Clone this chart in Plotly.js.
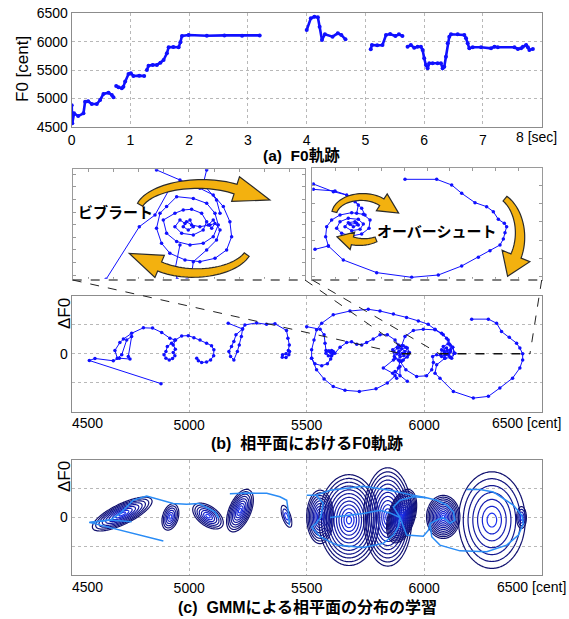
<!DOCTYPE html>
<html><head><meta charset="utf-8">
<script src="https://cdn.plot.ly/plotly-3.0.1.min.js"></script>
<style>html,body{margin:0;padding:0;background:#fff}#chart{width:569px;height:619px}</style>
</head><body><div id="chart"></div>
<script>
// ---------- DATA ----------
// (a) F0 contour: time [sec] and F0 [cent]; null = unvoiced gap
const f0Time = [0,0.005,0.01,0.04,0.11,0.2,0.228,0.28,0.341,0.427,0.484,0.54,0.626,0.683,0.711,null,
  0.757,0.796,0.853,0.88,0.91,0.967,1.007,1.05,1.15,1.234,null,
  1.28,1.308,1.38,1.45,1.51,1.564,1.62,1.65,1.73,1.82,1.85,1.877,1.99,2.3,2.6,2.9,3.2,null,
  4.0,4.07,4.13,4.19,4.22,4.26,4.31,4.44,4.53,4.59,4.66,null,
  5.09,5.11,5.2,5.29,5.35,5.42,5.51,5.57,5.63,null,
  5.717,5.773,5.83,5.887,5.944,5.973,6.0,6.029,6.058,6.086,6.143,6.229,6.285,6.314,6.342,6.37,6.4,6.427,6.456,6.57,6.683,6.712,6.74,6.768,6.826,6.968,7.138,7.195,7.253,7.536,7.594,7.65,7.68,7.735,7.765,7.79,7.85];
const f0Cent = [4880,4700,4560,4736,4688,4736,4941,4950,4900,4900,4971,5077,5100,5059,5018,null,
  5218,5195,5177,5206,5295,5430,5442,5395,5400,5395,null,
  5500,5577,5590,5589,5630,5677,5794,5900,5905,5900,5990,6100,6118,6105,6110,6105,6110,null,
  6205,6411,6440,6430,6264,6029,6130,6088,6147,6118,6041,null,
  5865,5941,5935,5941,6117,6135,6100,6129,6100,null,
  5911,5941,5893,5911,5911,5853,5706,5588,5530,5618,5618,5618,5618,5530,5558,5735,5971,6088,6130,6130,6117,6059,5971,5882,5900,5900,5882,5911,5900,5900,5870,5882,5911,5941,5900,5853,5870];

// (b) phase plane: F0 [cent] vs ΔF0
const phaseCent = [4880,4575,4599,4677,4703,4748,4741,4755,4734,4713,4694,4684,4705,4720,4755,4805,4844,4883,4918,4939,4925,4907,4901,4893,4901,4915,4929,4939,4932,4941,4932,4942,4968,4996,5020,5046,5074,5095,5105,5104,5091,5074,5053,5039,5032,null,
  5166,5227,5222,5213,5205,5190,5176,5169,5180,5190,5199,5227,5237,5287,5329,5365,5414,5420,5426,5422,5412,5397,5396,5412,5424,5427,null,
  5500,5557,5574,5578,5582,5596,5606,5613,5606,5592,5582,5592,5602,5613,5620,5642,5670,5691,5713,5734,5755,5783,5812,5843,5876,5894,5911,5928,5937,5928,5911,5890,5873,5871,5886,5904,5918,5914,5897,5883,5893,5908,5897,5890,5922,5932,5904,5876,5866,5890,null,
  5606,5602,5588,5564,5535,5521,5521,5531,5542,5564,5613,5684,5762,5812,5869,5925,5975,6017,6046,6074,6095,6110,6112,null,
  5521,5542,5574,5613,5663,5724,5795,5843,5876,5890,5897,null,
  5904,5918,5954,5996,6046,6081,6102,6121,6127,6112,6088,6070,6074,6095,6112,6105,6088,6084,6098,6104,6093,6081,6102,6121,6131,6117,null,
  5897,5922,5968,6010,6032,6039,6036,6053,6074,null,
  6088,6053,6046,6067,6124,6209,6273,6322,6376,6407,6419,6419,6407,6393,6362,6329,6308,6273,6202,null,
  5869,5826,5866,5883,null,5876,5928,null,5897,5897];
const phaseDelta = [-1.03,-0.23,-0.16,-0.24,-0.15,-0.18,-0.09,0.60,0.48,-0.03,-0.15,0.12,0.39,0.51,0.71,0.90,0.89,0.74,0.54,0.48,0.37,0.25,0.08,-0.03,-0.15,-0.21,-0.16,-0.07,0.05,0.16,0.31,0.48,0.62,0.63,0.56,0.48,0.37,0.28,0.14,-0.07,-0.21,-0.28,-0.30,-0.24,-0.15,null,
  1.06,0.86,0.60,0.31,0.08,-0.21,-0.09,0.08,0.25,0.43,0.66,0.86,1.00,1.07,1.02,1.04,0.81,0.54,0.31,0.12,0.00,-0.03,-0.12,-0.13,-0.03,0.08,null,
  0.94,0.85,0.66,0.37,0.12,0.10,0.12,0.02,-0.07,-0.07,0.02,0.10,0.05,0.08,0.02,0.23,0.39,0.42,0.33,0.31,0.39,0.51,0.66,0.66,0.48,0.25,0.28,0.20,0.05,-0.11,-0.21,-0.21,-0.09,0.08,0.20,0.18,0.08,-0.07,-0.11,0.00,0.10,0.02,-0.03,0.05,0.23,-0.03,-0.26,-0.15,0.14,0.31,null,
  -0.07,-0.18,-0.34,-0.41,-0.34,-0.15,0.14,0.48,0.83,1.06,1.35,1.48,1.54,1.48,1.38,1.26,1.14,1.02,0.85,0.71,0.54,0.31,0.14,null,
  -0.15,-0.55,-0.87,-1.13,-1.26,-1.30,-1.21,-1.01,-0.76,-0.49,-0.26,null,
  0.28,0.60,0.81,0.85,0.83,0.66,0.48,0.23,0.02,-0.13,-0.15,-0.03,0.14,0.20,0.08,-0.06,-0.05,0.08,0.12,0.02,0.00,0.25,0.35,0.23,0.02,-0.15,null,
  -0.26,-0.55,-0.78,-0.76,-0.55,-0.30,-0.09,-0.03,-0.09,null,
  -0.15,-0.38,-0.67,-0.84,-1.30,-1.53,-1.47,-1.18,-0.84,-0.49,-0.21,0.00,0.20,0.37,0.57,0.77,1.06,1.20,1.20,null,
  -0.21,-0.49,-0.67,-0.84,null,-0.61,-0.95,null,-0.44,-0.76];

// (b) inset: vibrato (zoomed)
const vibCent = [5872.2,5889.4,5897.5,5905.2,5913.8,5920.7,5927.6,5932.8,5936.2,5937.1,5934.5,5928.5,5920.7,5913.0,5905.2,5900.9,5898.3,5900.1,5903.5,5908.7,5917.3,5924.2,5928.5,5930.2,5927.6,5922.4,5915.6,5908.7,5903.5,5901.8,5907.8,5912.1,5916.4,5921.6,5924.2,5922.4,5917.3,5911.3,5907.8,5910.4,5913.0,5915.6,5917.3,5914.7,5912.1,5913.8,5916.4,5920.7,5925.9,5928.5,5926.8,5925.0,5927.6,5931.1,5929.3,5924.2,5917.3,5916.4,5913.8,null,
  5898.3,5910.4,5916.4,5922.4,5924.2,null,5922.4,5929.3,5931.1,null,5910.4,5907.8,5909.0];
const vibDelta = [-0.346,-0.013,0.061,0.230,0.240,0.230,0.188,0.114,0.019,-0.076,-0.160,-0.213,-0.234,-0.223,-0.181,-0.118,-0.023,0.072,0.114,0.177,0.166,0.135,0.072,-0.002,-0.076,-0.118,-0.128,-0.107,-0.055,0.029,0.072,0.093,0.097,0.072,0.019,-0.034,-0.065,-0.055,-0.013,0.029,0.008,0.029,-0.013,-0.034,-0.013,0.019,-0.002,-0.013,-0.002,0.008,-0.023,-0.002,0.029,-0.034,-0.097,-0.160,-0.234,-0.318,-0.350,null,
  0.346,0.282,0.251,0.257,0.346,null,0.257,0.156,0.072,null,-0.128,-0.287,-0.346];

// (b) inset: overshoot (zoomed)
const ovsCent = [6202.1,6271.1,6303.8,6325.6,6354.6,6380.0,6394.6,6405.5,6418.5,6423.6,6420.0,6416.4,6409.1,6387.3,6361.9,6325.6,6274.7,6216.6,6140.3,6067.6,6035.0,6005.9,null,
  6035.0,6029.1,6031.3,6042.2,6060.4,6085.8,6111.2,6125.8,6123.6,6107.6,6085.8,6064.0,6053.1,6060.4,6078.5,6100.3,6111.2,6104.0,6085.8,6071.3,6078.5,6093.1,6100.3,6089.4,6082.2,6096.7,null,
  6002.3,6045.9,6074.9,6093.1,6107.6,6114.9,null,
  6002.3,6049.5,6085.8,6100.3,6096.7];
const ovsDelta = [1.176,1.176,1.020,0.790,0.533,0.422,0.285,0.073,-0.037,-0.129,-0.294,-0.469,-0.634,-0.791,-0.974,-1.213,-1.462,-1.526,-1.397,-1.048,-0.662,-0.754,null,
  -0.662,-0.405,-0.129,0.055,0.193,0.257,0.211,0.055,-0.175,-0.331,-0.386,-0.313,-0.175,0.009,0.101,0.073,-0.055,-0.203,-0.239,-0.129,-0.019,0.009,-0.083,-0.129,-0.065,-0.037,null,
  1.047,0.836,0.744,0.560,0.376,0.193,null,
  0.900,0.854,0.698,0.468,0.239];

// zoomed regions of the main phase plane [cent]
const zoomVib = [5905, 5945];
const zoomOvs = [6065, 6450];

// (c) smoothed trajectory
const smoothCent = [4890,4575,4663,4706,4762,4819,4932,4989,5041,5111,5126,null,
  4575,4663,4755,null,
  5173,5250,5330,5386,5415,5422,5426,null,
  5500,5540,5570,5560,5540,5521,5557,5628,5741,5826,5869,5890,5897,null,
  5540,5599,5741,5854,5954,6010,6053,6096,6124,6131,6110,6081,null,
  5599,5670,5741,5812,5854,5897,null,
  5897,5869,5897,5954,6010,null,
  5897,5925,5996,6018,6025,6053,6081,null,
  6025,6032,6067,6152,6266,6351,6401,6422,6415,6379,6337,6294,6238,6181];
const smoothDelta = [-0.82,-0.17,-0.09,0.14,0.60,0.75,0.49,0.46,0.49,0.19,-0.03,null,
  -0.17,-0.09,-0.15,null,
  0.83,0.85,0.84,0.72,0.60,0.20,-0.27,null,
  0.77,0.77,0.50,0.00,-0.20,-0.33,-0.67,-0.96,-1.04,-0.90,-0.61,-0.33,0.00,null,
  0.77,0.95,1.09,0.95,0.77,0.69,0.60,0.43,0.20,-0.09,-0.20,0.00,null,
  0.00,0.08,0.14,0.25,0.16,0.00,null,
  0.00,0.37,0.60,0.72,0.69,null,
  0.00,-0.61,-0.65,-0.44,-0.21,-0.09,0.00,null,
  -0.21,-0.67,-0.96,-1.16,-1.19,-0.96,-0.61,-0.21,0.08,0.43,0.66,0.89,0.97,0.97];

// (c) GMM components: mean, spread of outer contour, correlation, number of contour rings
const gmmMeanCent  = [4715, 4920, 5080, 5216, 5414, 5557, 5680, 5845, 5904, 6081, 6288, 6414];
const gmmMeanDelta = [0.12, 0.02, 0.05, 0.24, 0.04, 0.02, -0.09, 0.02, 0.05, 0.02, -0.09, 0.00];
const gmmSdCent    = [127, 36, 65, 57, 23, 57, 128, 103, 64, 71, 142, 21];
const gmmSdDelta   = [0.59, 0.46, 0.45, 0.74, 0.38, 0.93, 1.58, 1.71, 0.93, 0.75, 1.68, 0.38];
const gmmRho       = [0.75, 0.3, -0.5, 0.5, -0.6, 0.0, 0.0, 0.0, 0.4, 0.0, 0.0, 0.0];
const gmmRings     = [9, 6, 7, 9, 3, 10, 12, 12, 15, 12, 7, 4];

const secTicks = [0,1,2,3,4,5,6,7,8];
const centTicks = [4500,5000,5500,6000,6500];
const f0Ticks = [4500,5000,5500,6000,6500];

// ---------- LAYOUT HELPERS ----------
const W = 569, H = 619;
const X = p => p / W, Y = p => 1 - p / H;
const FONT = 'Liberation Sans, Arial, Noto Sans CJK JP, sans-serif';
const JFONT = 'Liberation Sans, Noto Sans CJK JP, sans-serif';
const mainX = [X(71.7), X(541.7)];
const domA = [Y(126.7), Y(13.3)], domB = [Y(411.7), Y(296)], domC = [Y(575), Y(460)];
const insL = {x: [X(72.7), X(305)], y: [Y(280), Y(169.3)]};
const insR = {x: [X(312.3), X(541.7)], y: [Y(280), Y(168.3)]};

const gridAx = {showgrid: true, gridcolor: '#b8b8b8', griddash: 'dot', gridwidth: 1,
  showline: true, mirror: true, linecolor: '#8c8c8c', linewidth: 1, zeroline: false, ticks: '',
  tickfont: {family: FONT, size: 14, color: '#000'}, fixedrange: true};
const insetAx = {showgrid: false, showline: true, mirror: 'ticks', linecolor: '#9a9a9a', zeroline: false,
  ticks: 'inside', ticklen: 3, tickcolor: '#9a9a9a', showticklabels: false, fixedrange: true};

const traces = [];
const blue = '#1010ff';
traces.push({type: 'scatter', x: f0Time, y: f0Cent, xaxis: 'x', yaxis: 'y', mode: 'lines+markers',
  line: {color: blue, width: 2.6}, marker: {color: blue, size: 4}, connectgaps: false, hoverinfo: 'skip'});
traces.push({type: 'scatter', x: phaseCent, y: phaseDelta, xaxis: 'x2', yaxis: 'y2', mode: 'lines+markers',
  line: {color: blue, width: 1}, marker: {color: blue, size: 3.5}, connectgaps: false, hoverinfo: 'skip'});
traces.push({type: 'scatter', x: vibCent, y: vibDelta, xaxis: 'x4', yaxis: 'y4', mode: 'lines+markers',
  line: {color: blue, width: 1}, marker: {color: blue, size: 3.5}, connectgaps: false, hoverinfo: 'skip'});
traces.push({type: 'scatter', x: ovsCent, y: ovsDelta, xaxis: 'x5', yaxis: 'y5', mode: 'lines+markers',
  line: {color: blue, width: 1}, marker: {color: blue, size: 3.5}, connectgaps: false, hoverinfo: 'skip'});

// GMM contour traces (Mahalanobis radius of each component)
for (let k = 0; k < gmmMeanCent.length; k++) {
  const mx = gmmMeanCent[k], my = gmmMeanDelta[k], sx = gmmSdCent[k], sy = gmmSdDelta[k], r = gmmRho[k];
  const n = 81, xs = [], ys = [], z = [];
  for (let i = 0; i < n; i++) { xs.push(mx + sx * 1.15 * (2 * i / (n - 1) - 1)); ys.push(my + sy * 1.15 * (2 * i / (n - 1) - 1)); }
  for (let j = 0; j < n; j++) {
    const row = [];
    for (let i = 0; i < n; i++) {
      const u = (xs[i] - mx) / sx, v = (ys[j] - my) / sy;
      row.push(Math.sqrt((u * u - 2 * r * u * v + v * v) / (1 - r * r)));
    }
    z.push(row);
  }
  const nr = gmmRings[k];
  traces.push({type: 'contour', x: xs, y: ys, z: z, xaxis: 'x3', yaxis: 'y3', autocontour: false,
    contours: {start: 1 / nr, end: 1.0001, size: 1 / nr, coloring: 'lines', showlabels: false},
    line: {width: 1.2, smoothing: 1}, colorscale: [[0, '#1a30f0'], [0.3, '#161eb4'], [1, '#10106e']],
    zauto: false, zmin: 0, zmax: 1, showscale: false, hoverinfo: 'skip'});
}
traces.push({type: 'scatter', x: smoothCent, y: smoothDelta, xaxis: 'x3', yaxis: 'y3', mode: 'lines',
  line: {color: '#2a8cf5', width: 1.5}, connectgaps: false, hoverinfo: 'skip'});

// ---------- SHAPES ----------
const shapes = [];
function arcArrow(cx, cy, rx, ry, t0, t1, bw0, bw1, hw, hl) {
  const N = 30, s = Math.sign(t1 - t0), outer = [], inner = [];
  let pEnd, dEnd;
  for (let i = 0; i <= N; i++) {
    const t = (t0 + (t1 - t0) * i / N) * Math.PI / 180;
    const x = cx + rx * Math.cos(t), y = cy + ry * Math.sin(t);
    let dx = -rx * Math.sin(t) * s, dy = ry * Math.cos(t) * s;
    const L = Math.hypot(dx, dy); dx /= L; dy /= L;
    const nx = -dy, ny = dx, w = (bw0 + (bw1 - bw0) * i / N) / 2;
    outer.push([x + nx * w, y + ny * w]); inner.push([x - nx * w, y - ny * w]);
    if (i === N) { pEnd = [x, y]; dEnd = [dx, dy]; }
  }
  const nn = [-dEnd[1], dEnd[0]];
  const b1 = [pEnd[0] + nn[0] * hw, pEnd[1] + nn[1] * hw], b2 = [pEnd[0] - nn[0] * hw, pEnd[1] - nn[1] * hw];
  const tip = [pEnd[0] + dEnd[0] * hl, pEnd[1] + dEnd[1] * hl];
  const pts = outer.concat([b1, tip, b2], inner.reverse());
  return 'M' + pts.map(p => X(p[0]).toFixed(5) + ',' + Y(p[1]).toFixed(5)).join('L') + 'Z';
}
const arrowStyle = {type: 'path', xref: 'paper', yref: 'paper', fillcolor: '#F3B10F', line: {color: '#2b2b2b', width: 1.2}, layer: 'above'};
[
  [200, 212, 62, 28, 195, 305, 6, 10, 13, 36],
  [195, 245, 55, 28, 20, 130, 6, 10, 12, 33],
  [362, 215, 28, 18, 190, 315, 5, 8, 10, 20],
  [362, 222, 28, 20, 60, 110, 5, 8, 9, 16],
  [490, 235, 30, 42, -60, 30, 6, 11, 15, 22]
].forEach(a => shapes.push(Object.assign({}, arrowStyle, {path: arcArrow(...a)})));

// inset bottom borders dashed
[insL, insR].forEach(ins => {
  shapes.push({type: 'line', xref: 'paper', yref: 'paper', x0: ins.x[0], x1: ins.x[1], y0: ins.y[0], y1: ins.y[0], line: {color: '#fff', width: 2.5}, layer: 'above'});
  shapes.push({type: 'line', xref: 'paper', yref: 'paper', x0: ins.x[0], x1: ins.x[1], y0: ins.y[0], y1: ins.y[0], line: {color: '#555', width: 1.5, dash: 'dash'}, layer: 'above'});
});
// connectors from insets to zoomed regions in (b)
const bx = c => mainX[0] + (c - 4500) / 2000 * (mainX[1] - mainX[0]);
const bZero = domB[0] + 0.5 * (domB[1] - domB[0]);
const conn = {type: 'line', xref: 'paper', yref: 'paper', line: {color: '#222', width: 1, dash: 'dash'}, layer: 'above'};
shapes.push(Object.assign({}, conn, {x0: insL.x[0], y0: insL.y[0], x1: bx(zoomVib[0]), y1: bZero}));
shapes.push(Object.assign({}, conn, {x0: insL.x[1], y0: insL.y[0], x1: bx(zoomVib[1]), y1: bZero}));
shapes.push(Object.assign({}, conn, {x0: insR.x[0], y0: insR.y[0], x1: bx(zoomOvs[0]), y1: bZero}));
shapes.push(Object.assign({}, conn, {x0: insR.x[1], y0: insR.y[0], x1: bx(zoomOvs[1]), y1: bZero}));
shapes.push({type: 'line', xref: 'x2', yref: 'y2', x0: zoomOvs[0], x1: zoomOvs[1], y0: 0, y1: 0, line: {color: '#111', width: 1.5, dash: 'dash'}, layer: 'above'});
shapes.push({type: 'line', xref: 'x2', yref: 'y2', x0: zoomVib[0], x1: zoomVib[1], y0: 0, y1: 0, line: {color: '#111', width: 1.5, dash: 'dash'}, layer: 'above'});

// ---------- ANNOTATIONS ----------
const ann = (px, py, text, size, extra) => Object.assign({xref: 'paper', yref: 'paper', x: X(px), y: Y(py), text: text,
  showarrow: false, xanchor: 'center', yanchor: 'middle', font: {family: JFONT, size: size, color: '#000'}}, extra || {});
const annotations = [
  ann(301, 155, '<b>(a)  F0軌跡</b>', 15.5),
  ann(307, 443, '<b>(b)  相平面におけるF0軌跡</b>', 16),
  ann(307, 607, '<b>(c)  GMMによる相平面の分布の学習</b>', 16),
  ann(22.5, 69.5, 'F0 [cent]', 17, {textangle: -90}),
  ann(64, 313, 'ΔF0', 17, {textangle: -90}),
  ann(64, 476, 'ΔF0', 17, {textangle: -90}),
  ann(514, 137, '8 [sec]', 14, {xanchor: 'left'}),
  ann(70, 423, '4500', 14, {xanchor: 'left'}),
  ann(490, 423, '6500 [cent]', 14, {xanchor: 'left'}),
  ann(70, 587, '4500', 14, {xanchor: 'left'}),
  ann(495, 587, '6500 [cent]', 14, {xanchor: 'left'}),
  ann(115, 212, '<b>ビブラート</b>', 15),
  ann(437, 231, '<b>オーバーシュート</b>', 15)
];

const layout = {
  width: W, height: H, margin: {l: 0, r: 0, t: 0, b: 0}, paper_bgcolor: '#fff', plot_bgcolor: '#fff',
  showlegend: false, hovermode: false, shapes: shapes, annotations: annotations,
  xaxis: Object.assign({}, gridAx, {domain: mainX, range: [0, 8], anchor: 'y', tickvals: secTicks, ticktext: secTicks.map(v => v < 8 ? String(v) : '')}),
  yaxis: Object.assign({}, gridAx, {domain: domA, range: [4500, 6500], anchor: 'x', tickvals: f0Ticks}),
  xaxis2: Object.assign({}, gridAx, {domain: mainX, range: [4500, 6500], anchor: 'y2', tickvals: centTicks, ticktext: centTicks.map(v => (v === 4500 || v === 6500) ? '' : String(v))}),
  yaxis2: Object.assign({}, gridAx, {domain: domB, range: [-2, 2], anchor: 'x2', tickvals: [-1, 0, 1], ticktext: ['', '0', '']}),
  xaxis3: Object.assign({}, gridAx, {domain: mainX, range: [4500, 6500], anchor: 'y3', tickvals: centTicks, ticktext: centTicks.map(v => (v === 4500 || v === 6500) ? '' : String(v))}),
  yaxis3: Object.assign({}, gridAx, {domain: domC, range: [-2, 2], anchor: 'x3', tickvals: [-1, 0, 1], ticktext: ['', '0', '']}),
  xaxis4: Object.assign({}, insetAx, {domain: insL.x, range: [5855, 5975], anchor: 'y4', dtick: 13}),
  yaxis4: Object.assign({}, insetAx, {domain: insL.y, range: [-0.35, 0.35], anchor: 'x4', dtick: 0.08}),
  xaxis5: Object.assign({}, insetAx, {domain: insR.x, range: [6000, 6500], anchor: 'y5', dtick: 50}),
  yaxis5: Object.assign({}, insetAx, {domain: insR.y, range: [-1.6, 1.48], anchor: 'x5', dtick: 0.5})
};
Plotly.newPlot('chart', traces, layout, {staticPlot: true, displayModeBar: false});
</script></body></html>
